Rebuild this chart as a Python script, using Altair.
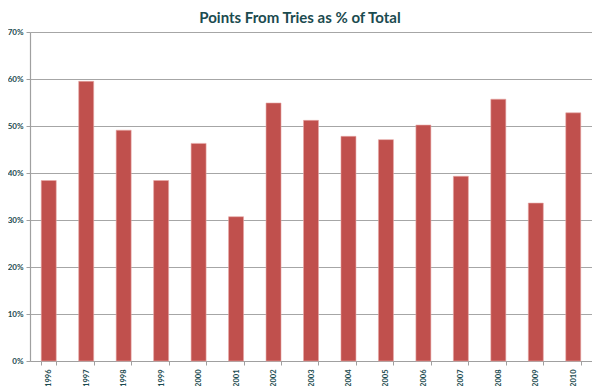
import altair as alt
import pandas as pd

years = ["1996", "1997", "1998", "1999", "2000", "2001", "2002", "2003",
         "2004", "2005", "2006", "2007", "2008", "2009", "2010"]
pct = [38.4, 59.5, 49.1, 38.4, 46.3, 30.7, 54.9, 51.2,
       47.8, 47.1, 50.2, 39.3, 55.7, 33.6, 52.8]

df = pd.DataFrame({"Year": years, "Pct": [v / 100 for v in pct]})

TEXT = "#1B4B4F"
FONT = "Lato"

chart = alt.Chart(df).mark_bar(
    color="#C0504D", stroke="#E8A8A6", strokeWidth=0.6
).encode(
    x=alt.X("Year:N", sort=years, title=None,
            scale=alt.Scale(paddingInner=0.6, paddingOuter=0.3),
            axis=alt.Axis(labelAngle=270, labelFont=FONT, labelFontSize=7.5,
                          labelFontWeight="bold", labelColor=TEXT,
                          labelAlign="right", labelBaseline="middle",
                          labelPadding=4,
                          tickBand="extent", tickSize=4, tickColor="#A0A0A0",
                          domainColor="#A0A0A0", domainWidth=1.2, grid=False)),
    y=alt.Y("Pct:Q", title=None,
            scale=alt.Scale(domain=[0, 0.7], nice=False),
            axis=alt.Axis(format=".0%", values=[0, 0.1, 0.2, 0.3, 0.4, 0.5, 0.6, 0.7],
                          labelFont=FONT, labelFontSize=8, labelFontWeight="bold",
                          labelColor=TEXT, labelPadding=3,
                          tickSize=4, tickColor="#A0A0A0",
                          domainColor="#A0A0A0", domainWidth=1.2,
                          gridColor="#A6A6A6", gridWidth=1.2)),
).properties(
    width=562,
    height=329,
    title=alt.TitleParams("Points From Tries as % of Total", font=FONT,
                          fontSize=15, fontWeight="bold", color=TEXT,
                          anchor="middle", dx=-11, offset=2),
    autosize=alt.AutoSizeParams(type="none"),
    padding={"left": 22, "top": 24, "right": 0, "bottom": 25},
).configure_view(stroke=None)

chart.save("out.html", embed_options={"renderer": "svg", "actions": False})
